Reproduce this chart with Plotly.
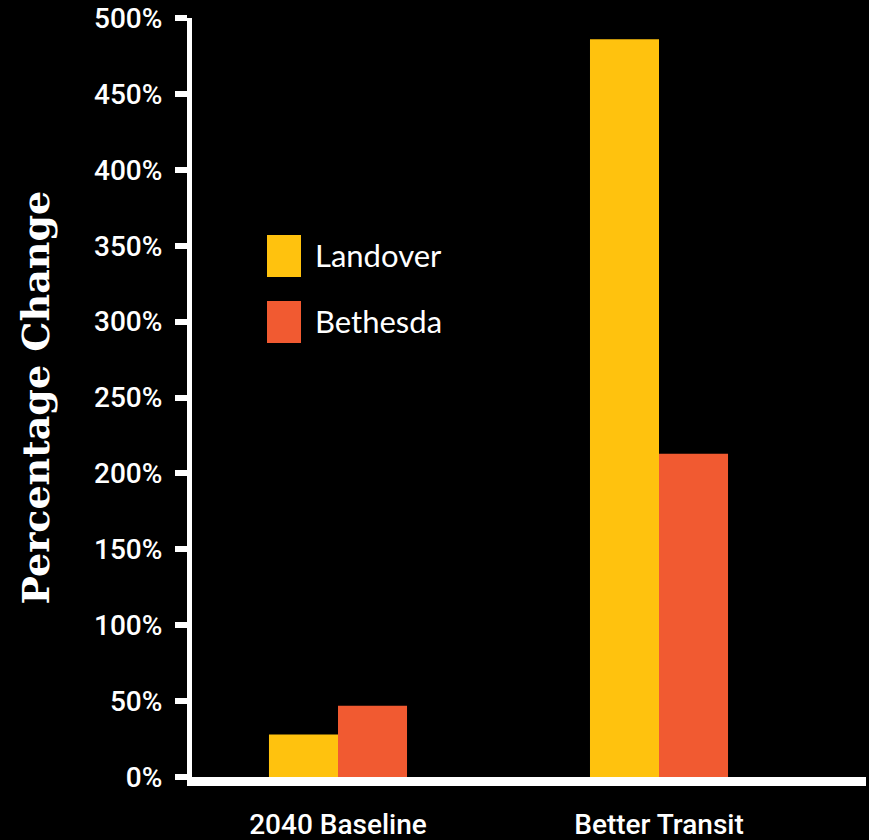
import plotly.graph_objects as go

# Scenario categories and percentage change for each area
scenarios = ["2040 Baseline", "Better Transit"]
series_names = ["Landover", "Bethesda"]
landover = [28, 486]
bethesda = [47, 213]
y_ticks = [0, 50, 100, 150, 200, 250, 300, 350, 400, 450, 500]
y_tick_labels = [f"{v}%" for v in y_ticks]

colors = ["#FFC20E", "#F15A31"]
sans = "Roboto, Lato, sans-serif"

W, H = 869, 840
L, R, T, B = 192, 3, 18, 63
plot_w = W - L - R
plot_h = H - T - B


def px_x(x):
    return (x - L) / plot_w


def px_y(y):
    return (H - B - y) / plot_h


fig = go.Figure()
for name, vals, col in zip(series_names, [landover, bethesda], colors):
    fig.add_trace(go.Bar(
        x=scenarios, y=vals, name=name, marker=dict(color=col, line=dict(width=0)),
        showlegend=False,
    ))

# Legend swatches and labels
swatch_tops = [235, 301]
for name, col, top in zip(series_names, colors, swatch_tops):
    fig.add_shape(type="rect", xref="paper", yref="paper",
                  x0=px_x(267), x1=px_x(301), y0=px_y(top + 42), y1=px_y(top),
                  fillcolor=col, line=dict(width=0), layer="above")
    fig.add_annotation(xref="paper", yref="paper", x=px_x(313), y=px_y(top + 20),
                       xanchor="left", yanchor="middle", text=name, showarrow=False,
                       font=dict(family="Lato, sans-serif", size=31, color="white"))

# Vertical axis title
fig.add_annotation(xref="paper", yref="paper", x=0, y=0.5, xshift=-157,
                   xanchor="center", yanchor="middle", textangle=-90,
                   text="<b>Percentage Change</b>", showarrow=False,
                   font=dict(family="'DejaVu Serif', serif", size=38, color="white"))

fig.update_layout(
    width=W, height=H,
    margin=dict(l=L, r=R, t=T, b=B, pad=0, autoexpand=False),
    paper_bgcolor="black", plot_bgcolor="black",
    barmode="group", bargap=0.57, bargroupgap=0,
    font=dict(family=sans, color="white"),
)
fig.update_xaxes(
    type="category", range=[-(338 - L) / 321, (W - R - 338) / 321],
    automargin=False,
    showgrid=False, zeroline=False,
    showline=True, linecolor="white", linewidth=9,
    ticks="outside", ticklen=14, tickcolor="black", tickwidth=1,
    tickfont=dict(family=sans, size=28, color="white", weight=500),
)
fig.update_yaxes(
    range=[0, 500], tickvals=y_ticks, ticktext=y_tick_labels,
    automargin=False,
    showgrid=False, zeroline=False,
    showline=True, linecolor="white", linewidth=5,
    ticks="outside", ticklen=12, tickwidth=6, tickcolor="white",
    ticklabelstandoff=7,
    tickfont=dict(family=sans, size=28, color="white", weight=500),
)

fig.write_html("out.html")
